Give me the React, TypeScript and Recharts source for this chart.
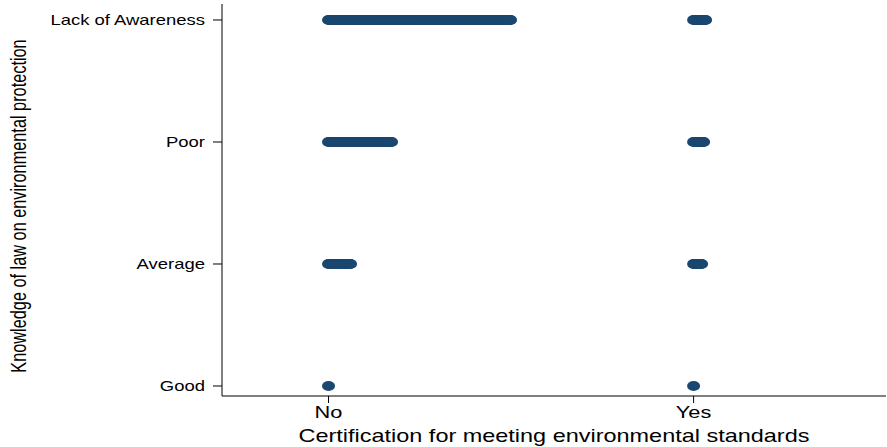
import { ScatterChart, Scatter, XAxis, YAxis, Label } from "recharts";

const certification = ["No", "Yes"];
const knowledge = ["Good", "Average", "Poor", "Lack of Awareness"];
// respondents per knowledge level (Good .. Lack of Awareness) in each certification group
const countsNo = [1, 23, 64, 183];
const countsYes = [1, 9, 11, 13];

const STEP = 1 / 365; // sideways offset between stacked markers
const NAVY = "#1a476f";
const FONT = "'Liberation Sans', Arial, Helvetica, sans-serif";
const STRETCH = 1.32; // source image is stretched horizontally

function stack(counts: number[], group: number) {
  const pts: { x: number; y: number }[] = [];
  counts.forEach((n, level) => {
    for (let i = 0; i < n; i++) pts.push({ x: group + i * STEP, y: level + 1 });
  });
  return pts;
}

const points = [...stack(countsNo, 0), ...stack(countsYes, 1)];

function YTick({ x, y, payload }: any) {
  return (
    <g transform={`translate(${x},${y})`}>
      <text transform={`scale(${STRETCH},1)`} textAnchor="end" dy="0.38em" fontSize={14} fill="#000" fontFamily={FONT}>
        {knowledge[payload.value - 1]}
      </text>
    </g>
  );
}

function XTick({ x, y, payload }: any) {
  return (
    <g transform={`translate(${x},${y})`}>
      <text transform={`scale(${STRETCH},1)`} textAnchor="middle" dy={14.5} fontSize={16.5} fill="#000" fontFamily={FONT}>
        {certification[payload.value]}
      </text>
    </g>
  );
}

const xTitle = (props: any) => {
  const { x, y, width } = props.viewBox;
  return (
    <g transform={`translate(${x + width / 2},${y + 46})`}>
      <text transform="scale(1.34,1)" textAnchor="middle" fontSize={17.5} fill="#000" fontFamily={FONT}>
        Certification for meeting environmental standards
      </text>
    </g>
  );
};

const yTitle = (props: any) => {
  const { y, height } = props.viewBox;
  return (
    <g transform={`translate(18.5,${y + height / 2 + 6}) scale(${STRETCH},1) rotate(-90)`}>
      <text textAnchor="middle" dominantBaseline="central" fontSize={16.3} fill="#000" fontFamily={FONT}>
        Knowledge of law on environmental protection
      </text>
    </g>
  );
};

const Dot = (props: any) => <ellipse cx={props.cx} cy={props.cy} rx={6.5} ry={5} fill={NAVY} />;

export default function App() {
  return (
    <div style={{ position: "absolute", left: 0, top: 0, background: "#fff" }}>
      <ScatterChart width={887} height={447} margin={{ top: 4, right: 1, bottom: 0, left: 0 }}>
        <XAxis
          type="number"
          dataKey="x"
          domain={[-0.2918, 1.527]}
          ticks={[0, 1]}
          allowDataOverflow
          height={51}
          tickSize={7}
          tickMargin={0}
          tick={<XTick />}
          axisLine={{ stroke: "#000" }}
          tickLine={{ stroke: "#000" }}
        >
          <Label content={xTitle} />
        </XAxis>
        <YAxis
          type="number"
          dataKey="y"
          domain={[0.918, 4.131]}
          ticks={[1, 2, 3, 4]}
          allowDataOverflow
          width={222}
          tickSize={9}
          tickMargin={8}
          tick={<YTick />}
          axisLine={{ stroke: "#000" }}
          tickLine={{ stroke: "#000" }}
        >
          <Label content={yTitle} />
        </YAxis>
        <Scatter data={points} shape={Dot} isAnimationActive={false} />
      </ScatterChart>
    </div>
  );
}
